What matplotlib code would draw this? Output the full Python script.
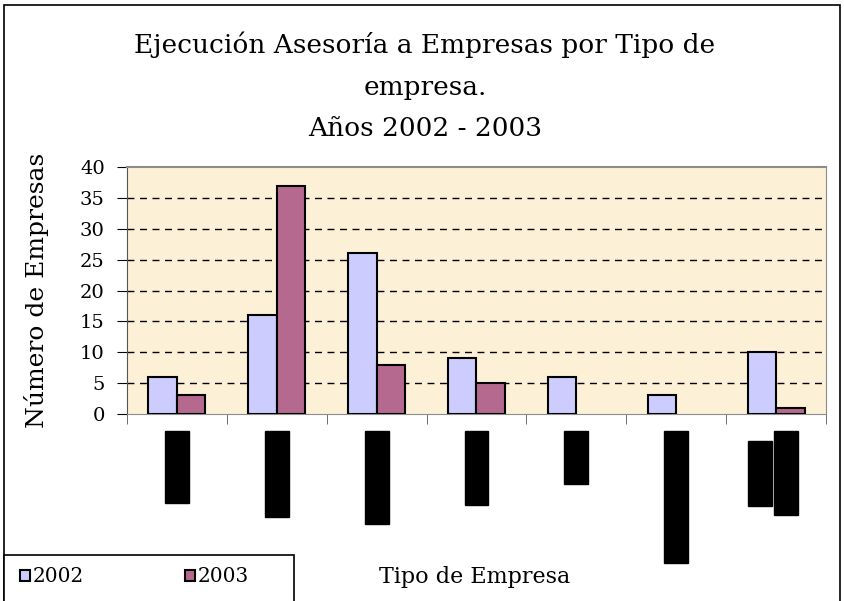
import numpy as np
import matplotlib
matplotlib.use('Agg')
import matplotlib.pyplot as plt
from matplotlib.patches import Rectangle, Patch
from matplotlib.transforms import blended_transform_factory

# Datos
categories = ['1', '2', '3', '4', '5', '6', '7']
years = ['2002', '2003']
values_2002 = [6, 16, 26, 9, 6, 3, 10]
values_2003 = [3, 37, 8, 5, 0, 0, 1]
y_ticks = [0, 5, 10, 15, 20, 25, 30, 35, 40]

plt.rcParams['font.family'] = ['DejaVu Serif']

W, H = 845, 601
fig = plt.figure(figsize=(W / 100, H / 100), dpi=100)

def fx(px):
    return px / W

def fy(py):
    return 1 - py / H

# outer border of the chart
fig.patches.append(Rectangle((fx(4), fy(620)), fx(836), fy(5) - fy(620),
                             transform=fig.transFigure, fill=False,
                             edgecolor='black', lw=1.2))

ax = fig.add_axes([fx(127), fy(414), fx(826) - fx(127), fy(167) - fy(414)])
ax.set_facecolor('#fcf0d7')

x = np.arange(len(categories))
w = 1 / 3.5
b1 = ax.bar(x - w / 2, values_2002, w, color='#ccccff', edgecolor='black', lw=1.5, zorder=3)
b2 = ax.bar(x + w / 2, values_2003, w, color='#b5698f', edgecolor='black', lw=1.5, zorder=3)
for bars in (b1, b2):
    for p in bars:
        if p.get_height() == 0:
            p.set_linewidth(0)

ax.set_xlim(-0.5, len(categories) - 0.5)
ax.set_ylim(0, 40)
ax.set_yticks(y_ticks)
ax.tick_params(axis='y', labelsize=14, length=7, direction='out', pad=9)
ax.set_xticks([])
ax.set_xticks(np.arange(-0.5, len(categories)), minor=True)
ax.tick_params(axis='x', which='minor', length=7, direction='out', color='#555555')

for v in y_ticks[1:-1]:
    ax.axhline(v, color='black', lw=1, ls=(0, (5, 4)), zorder=1)

for s in ['top', 'right', 'bottom']:
    ax.spines[s].set_color('#8c8c8c')
ax.spines['left'].set_color('#555555')
ax.spines['top'].set_linewidth(1.5)

# rotated category labels shown as black blocks
blk = blended_transform_factory(ax.transData, fig.transFigure)
label_blocks = [(0, 0.0, 431, 503), (1, 0.0, 431, 517), (2, 0.0, 431, 524),
                (3, 0.0, 431, 505), (4, 0.0, 431, 484), (5, 0.0, 431, 563),
                (6, -0.16, 441, 506), (6, 0.10, 431, 515)]
for cat, off, top, bot in label_blocks:
    ax.add_patch(Rectangle((cat + off - 0.12, fy(bot)), 0.24, fy(top) - fy(bot),
                           transform=blk, color='black', clip_on=False))

ax.set_ylabel('Número de Empresas', fontsize=18)
ax.yaxis.set_label_coords(fx(49), fy(290), transform=fig.transFigure)

fig.text(fx(425), fy(45), 'Ejecución Asesoría a Empresas por Tipo de', ha='center', va='center', fontsize=19)
fig.text(fx(425), fy(88), 'empresa.', ha='center', va='center', fontsize=19)
fig.text(fx(425), fy(128), 'Años 2002 - 2003', ha='center', va='center', fontsize=19)

fig.text(fx(475), fy(577), 'Tipo de Empresa', ha='center', va='center', fontsize=16)

# legend
fig.patches.append(Rectangle((fx(4), fy(620)), fx(290), fy(555) - fy(620),
                             transform=fig.transFigure, fill=True, facecolor='white',
                             edgecolor='black', lw=1.2))
handles = [Patch(facecolor='#ccccff', edgecolor='black', lw=1.5),
           Patch(facecolor='#b5698f', edgecolor='black', lw=1.5)]
fig.legend(handles, years, loc='center left', bbox_to_anchor=(fx(12), fy(577)),
           ncol=2, frameon=False, fontsize=14.5, handlelength=0.5, handleheight=0.5,
           handletextpad=0.15, columnspacing=5.0, borderaxespad=0)

fig.savefig('out.png', dpi=100)
